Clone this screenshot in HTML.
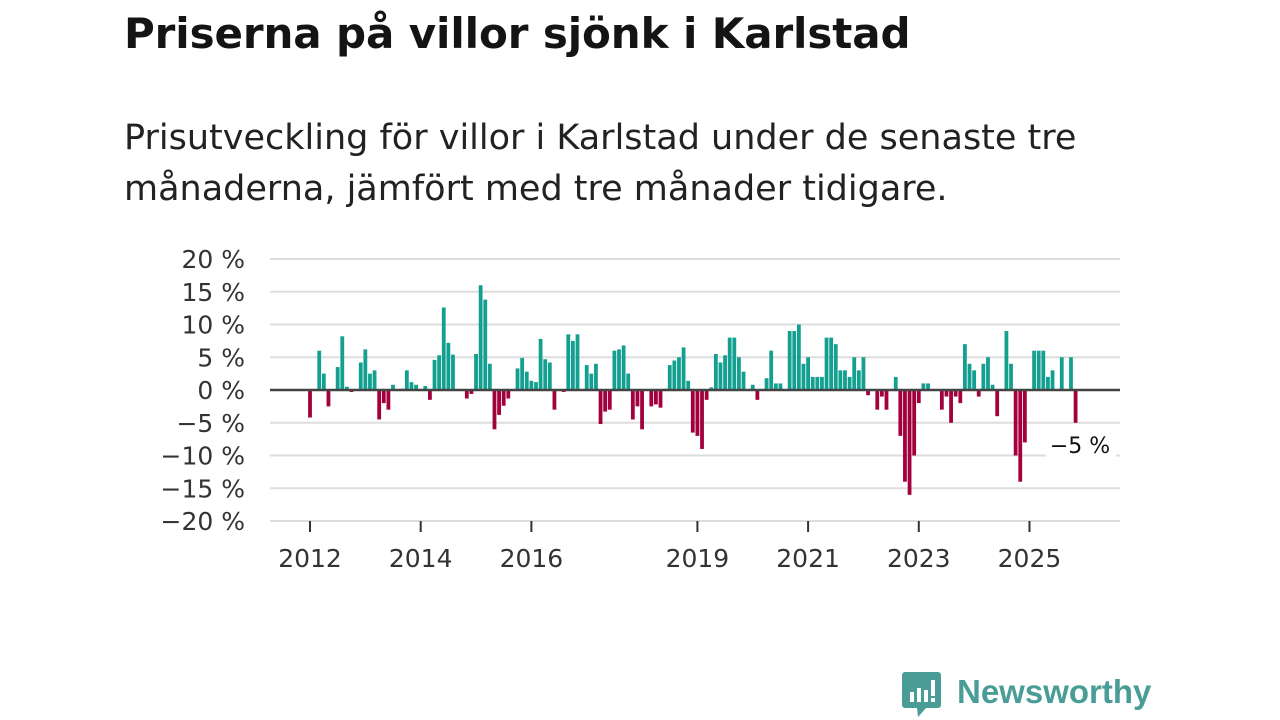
<!DOCTYPE html>
<html><head><meta charset="utf-8"><style>
body{margin:0;width:1280px;height:720px;background:#fff;overflow:hidden;font-family:"Liberation Sans","DejaVu Sans",sans-serif;}
.title{position:absolute;left:124px;top:9px;font-size:42px;font-weight:bold;color:#141414;font-family:"DejaVu Sans","Liberation Sans",sans-serif;letter-spacing:-0.1px}
.sub{position:absolute;left:124px;top:113px;font-size:35px;line-height:51px;color:#222;font-family:"DejaVu Sans","Liberation Sans",sans-serif;width:1120px;letter-spacing:0px}
svg{position:absolute;left:0;top:0}
</style></head><body>
<div class="title">Priserna på villor sjönk i Karlstad</div>
<div class="sub">Prisutveckling för villor i Karlstad under de senaste tre<br>månaderna, jämfört med tre månader tidigare.</div>
<svg id="chart" width="1280" height="720"></svg>
<script>
const months=["2012-01","2012-03","2012-04","2012-05","2012-07","2012-08","2012-09","2012-10","2012-12","2013-01","2013-02","2013-03","2013-04","2013-05","2013-06","2013-07","2013-09","2013-10","2013-11","2013-12","2014-02","2014-03","2014-04","2014-05","2014-06","2014-07","2014-08","2014-11","2014-12","2015-01","2015-02","2015-03","2015-04","2015-05","2015-06","2015-07","2015-08","2015-10","2015-11","2015-12","2016-01","2016-02","2016-03","2016-04","2016-05","2016-06","2016-08","2016-09","2016-10","2016-11","2017-01","2017-02","2017-03","2017-04","2017-05","2017-06","2017-07","2017-08","2017-09","2017-10","2017-11","2017-12","2018-01","2018-03","2018-04","2018-05","2018-06","2018-07","2018-08","2018-09","2018-10","2018-11","2018-12","2019-01","2019-02","2019-03","2019-04","2019-05","2019-06","2019-07","2019-08","2019-09","2019-10","2019-11","2020-01","2020-02","2020-04","2020-05","2020-06","2020-07","2020-09","2020-10","2020-11","2020-12","2021-01","2021-02","2021-03","2021-04","2021-05","2021-06","2021-07","2021-08","2021-09","2021-10","2021-11","2021-12","2022-01","2022-02","2022-04","2022-05","2022-06","2022-08","2022-09","2022-10","2022-11","2022-12","2023-01","2023-02","2023-03","2023-06","2023-07","2023-08","2023-09","2023-10","2023-11","2023-12","2024-01","2024-02","2024-03","2024-04","2024-05","2024-06","2024-08","2024-09","2024-10","2024-11","2024-12","2025-02","2025-03","2025-04","2025-05","2025-06","2025-08","2025-10","2025-11"];
const values=[-4.2,6,2.5,-2.5,3.5,8.2,0.5,-0.3,4.2,6.2,2.5,3,-4.5,-2,-3,0.8,0.2,3,1.2,0.8,0.6,-1.5,4.6,5.3,12.6,7.2,5.4,-1.3,-0.6,5.5,16,13.8,4,-6,-3.8,-2.4,-1.3,3.3,4.9,2.8,1.4,1.2,7.8,4.7,4.2,-3,-0.3,8.5,7.5,8.5,3.8,2.5,4,-5.2,-3.3,-3,6,6.2,6.8,2.5,-4.5,-2.5,-6,-2.5,-2.2,-2.7,0.2,3.8,4.5,5,6.5,1.4,-6.5,-7,-9,-1.5,0.4,5.5,4.2,5.3,8,8,5,2.8,0.8,-1.5,1.8,6,1,1,9,9,10,4,5,2,2,2,8,8,7,3,3,2,5,3,5,-0.8,-3,-1,-3,2,-7,-14,-16,-10,-2,1,1,-3,-1,-5,-1,-2,7,4,3,-1,4,5,0.8,-4,9,4,-10,-14,-8,6,6,6,2,3,5,5,-5];
const yTicks=[20,15,10,5,0,-5,-10,-15,-20];
const yTickLabels=["20 %","15 %","10 %","5 %","0 %","−5 %","−10 %","−15 %","−20 %"];
const xTickYears=[2012,2014,2016,2019,2021,2023,2025];
const lastLabel="−5 %";
const NS="http://www.w3.org/2000/svg";
const svg=document.getElementById('chart');
const X0=270,X1=1120;
function y(v){return 390-v*6.55;}
function xm(s){const [yy,mm]=s.split('-').map(Number);return 310+((yy-2012)*12+(mm-1))*4.612;}
function mk(t,a){const e=document.createElementNS(NS,t);for(const k in a)e.setAttribute(k,a[k]);svg.appendChild(e);return e;}
yTicks.forEach((v,i)=>{
 const g=mk('line',{x1:X0,x2:X1,y1:y(v),y2:y(v),stroke:'#ddd','stroke-width':2});
 
 
 const t=mk('text',{x:245,y:y(v)+9,'text-anchor':'end','font-size':25,fill:'#333','font-family':'"DejaVu Sans","Liberation Sans",sans-serif'});
 t.textContent=yTickLabels[i];
 
 
});
months.forEach((m,i)=>{
 const v=values[i];const x=xm(m);
 const r=mk('rect',{x:x-1.9,width:3.8,y:Math.min(y(v),390),height:Math.abs(y(v)-390),fill:v>=0?'#14a090':'#a3003e'});
 
 
});
const z=mk('line',{x1:X0,x2:X1,y1:390,y2:390,stroke:'#444','stroke-width':2.5});


xTickYears.forEach(yr=>{
 const x=xm(yr+'-01');
 const l=mk('line',{x1:x,x2:x,y1:521,y2:532,stroke:'#333','stroke-width':2});
 
 
 const t=mk('text',{x:x,y:567,'text-anchor':'middle','font-size':25,fill:'#333','font-family':'"DejaVu Sans","Liberation Sans",sans-serif'});
 t.textContent=yr;
 
 
});
const bg=mk('rect',{x:1046,y:430,width:70,height:28,fill:'#fff'});


const lv=mk('text',{x:1080,y:453,'text-anchor':'middle','font-size':22,fill:'#111','font-family':'"DejaVu Sans","Liberation Sans",sans-serif'});
lv.textContent=lastLabel;


</script>
<svg width="1280" height="720" style="pointer-events:none">
<path d="M905 672 h33 a3 3 0 0 1 3 3 v30 a3 3 0 0 1 -3 3 h-12 l-8 9 l-1 -9 h-12 a3 3 0 0 1 -3 -3 v-30 a3 3 0 0 1 3 -3z" fill="#4a9d96"/>
<rect x="910" y="692" width="4" height="10" fill="#fff"/><rect x="917" y="688" width="4" height="14" fill="#fff"/><rect x="924" y="690" width="4" height="12" fill="#fff"/><rect x="931" y="680" width="4" height="16" fill="#fff"/><rect x="931" y="698" width="4" height="4" fill="#fff"/>
<text x="957" y="703" font-size="33" font-weight="bold" fill="#4a9d96" font-family="'Liberation Sans','DejaVu Sans',sans-serif">Newsworthy</text>
</svg>
</body></html>
